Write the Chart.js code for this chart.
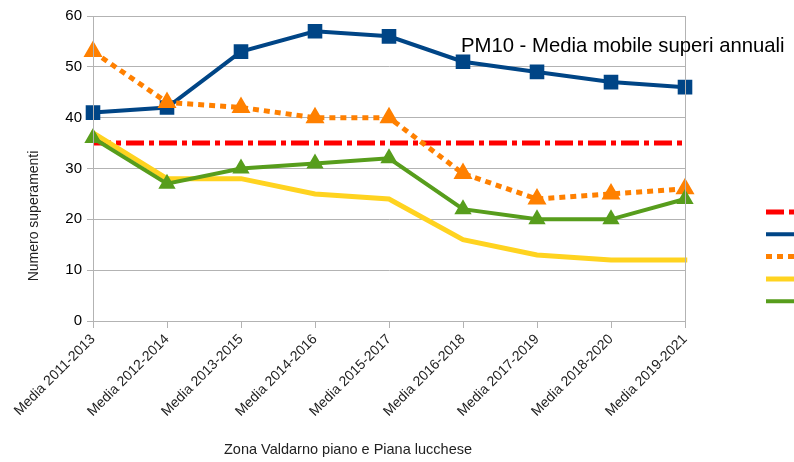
<!DOCTYPE html>
<html>
<head>
<meta charset="utf-8">
<script src="https://cdn.jsdelivr.net/npm/chart.js@4"></script>
<style>
    html, body { margin: 0; padding: 0; background: #fff; overflow: hidden; }
    #wrap { width: 794px; height: 462px; }
</style>
</head>
<body>
<div id="wrap"><canvas id="pmChart" width="794" height="462"></canvas></div>
<script>
// Data
const categories = ['Media 2011-2013', 'Media 2012-2014', 'Media 2013-2015', 'Media 2014-2016', 'Media 2015-2017',
    'Media 2016-2018', 'Media 2017-2019', 'Media 2018-2020', 'Media 2019-2021'];
const limitValues = [35, 35, 35, 35, 35, 35, 35, 35, 35];
const blueValues = [41, 42, 53, 57, 56, 51, 49, 47, 46];
const orangeValues = [53, 43, 42, 40, 40, 29, 24, 25, 26];
const yellowValues = [37, 28, 28, 25, 24, 16, 13, 12, 12];
const greenValues = [36, 27, 30, 31, 32, 22, 20, 20, 24];
const seriesNames = ['Valore limite (35 superamenti)', 'LU-Capannori', 'LU-Porta Elisa', 'PI-Santa Croce', 'FI-Montelupo'];
const yTicks = [0, 10, 20, 30, 40, 50, 60];

const GRID = '#b3b3b3';
const FONT = '"Liberation Sans", Arial, sans-serif';

// Frame, title, axis titles and the (cut off) legend on the right
const decorations = {
    id: 'decorations',
    afterDraw(chart) {
        const ctx = chart.ctx;
        const a = chart.chartArea;
        ctx.save();
        ctx.strokeStyle = GRID;
        ctx.lineWidth = 1;
        ctx.strokeRect(a.left + 0.5, a.top + 0.5, a.right - a.left, a.bottom - a.top);

        ctx.fillStyle = '#000';
        ctx.font = '20.3px ' + FONT;
        ctx.textBaseline = 'alphabetic';
        ctx.fillText('PM10 - Media mobile superi annuali', 461, 52);

        ctx.fillStyle = '#222';
        ctx.font = '14.5px ' + FONT;
        ctx.textAlign = 'center';
        ctx.fillText('Zona Valdarno piano e Piana lucchese', 348, 454);
        ctx.font = '14px ' + FONT;
        ctx.translate(38, 216);
        ctx.rotate(-Math.PI / 2);
        ctx.fillText('Numero superamenti', 0, 0);
        ctx.restore();

        // legend samples
        ctx.save();
        chart.data.datasets.forEach((ds, i) => {
            const y = 212 + i * 22.3;
            ctx.strokeStyle = ds.borderColor;
            ctx.lineWidth = ds.borderWidth;
            ctx.setLineDash(ds.borderDash || []);
            ctx.beginPath();
            ctx.moveTo(766, y);
            ctx.lineTo(840, y);
            ctx.stroke();
            ctx.setLineDash([]);
            ctx.fillStyle = '#000';
            ctx.font = '13px ' + FONT;
            ctx.fillText(ds.label, 850, y + 4);
        });
        ctx.restore();
    }
};

new Chart(document.getElementById('pmChart'), {
    type: 'line',
    data: {
        labels: categories,
        datasets: [
            {
                label: seriesNames[0], data: limitValues, order: 5,
                borderColor: '#ff0000', backgroundColor: '#ff0000', borderWidth: 5,
                borderDash: [18, 5, 5, 5], pointRadius: 0, borderCapStyle: 'butt'
            },
            {
                label: seriesNames[1], data: blueValues, order: 4,
                borderColor: '#004586', backgroundColor: '#004586', borderWidth: 4,
                pointStyle: 'rect', pointRadius: 7.5
            },
            {
                label: seriesNames[2], data: orangeValues, order: 3,
                borderColor: '#ff8000', backgroundColor: '#ff8000', borderWidth: 5,
                borderDash: [6, 5], pointStyle: 'triangle', pointRadius: 6
            },
            {
                label: seriesNames[3], data: yellowValues, order: 2,
                borderColor: '#ffd320', backgroundColor: '#ffd320', borderWidth: 5,
                pointRadius: 0, borderCapStyle: 'square'
            },
            {
                label: seriesNames[4], data: greenValues, order: 1,
                borderColor: '#579d1c', backgroundColor: '#579d1c', borderWidth: 4,
                pointStyle: 'triangle', pointRadius: 6
            }
        ]
    },
    options: {
        responsive: false,
        animation: false,
        layout: { padding: { top: 16, right: 109, left: 0, bottom: 0 } },
        elements: { line: { tension: 0 }, point: { borderWidth: 0, hoverRadius: 6 } },
        plugins: {
            legend: { display: false },
            tooltip: { enabled: false }
        },
        scales: {
            x: {
                offset: false,
                grid: { drawOnChartArea: false, color: GRID, tickLength: 7 },
                border: { color: GRID },
                ticks: {
                    color: '#222', font: { family: FONT, size: 14 },
                    maxRotation: 45, minRotation: 45, padding: 3, autoSkip: false
                },
                afterFit(scale) { scale.height = 141; }
            },
            y: {
                min: 0, max: 60,
                afterBuildTicks(scale) { scale.ticks = yTicks.map(v => ({ value: v })); },
                grid: { color: GRID, tickLength: 6 },
                border: { color: GRID },
                ticks: { color: '#000', font: { family: FONT, size: 15 }, padding: 5 },
                afterFit(scale) { scale.width = 93; }
            }
        }
    },
    plugins: [decorations]
});
</script>
</body>
</html>
